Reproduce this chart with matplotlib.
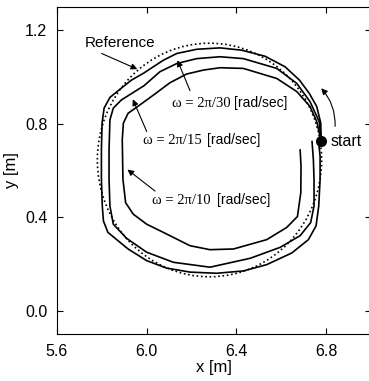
import matplotlib
matplotlib.use("Agg")
import matplotlib.pyplot as plt
from matplotlib.patches import Circle

plt.rcParams['font.family'] = ['Liberation Sans', 'DejaVu Sans']

# reference circle
ref_center = (6.28, 0.645)
ref_radius = 0.5

# trajectories (counter-clockwise from start)
x_w30 = [6.778, 6.776, 6.758, 6.725, 6.681, 6.617, 6.528, 6.424, 6.327, 6.223, 6.134, 6.074,
         5.985, 5.932, 5.881, 5.836, 5.810, 5.801, 5.798, 5.798, 5.802, 5.807, 5.827, 5.917,
         6.000, 6.089, 6.193, 6.312, 6.431, 6.535, 6.647, 6.721, 6.755, 6.767, 6.773, 6.773, 6.766]
y_w30 = [0.725, 0.803, 0.874, 0.930, 0.987, 1.044, 1.089, 1.115, 1.125, 1.119, 1.101, 1.072,
         1.016, 0.987, 0.948, 0.913, 0.867, 0.803, 0.689, 0.562, 0.448, 0.384, 0.335, 0.264,
         0.214, 0.182, 0.165, 0.160, 0.170, 0.197, 0.247, 0.304, 0.363, 0.448, 0.562, 0.661, 0.725]

x_w15 = [6.778, 6.769, 6.728, 6.669, 6.580, 6.431, 6.327, 6.223, 6.134, 6.059, 5.988, 5.887,
         5.851, 5.836, 5.832, 5.832, 5.836, 5.851, 5.911, 6.000, 6.119, 6.282, 6.461, 6.595,
         6.684, 6.731, 6.746, 6.746, 6.743, 6.737]
y_w15 = [0.725, 0.810, 0.895, 0.973, 1.037, 1.079, 1.087, 1.079, 1.058, 1.023, 0.963, 0.902,
         0.867, 0.817, 0.689, 0.562, 0.448, 0.370, 0.309, 0.250, 0.207, 0.186, 0.224, 0.271,
         0.321, 0.377, 0.448, 0.562, 0.647, 0.725]

x_w10 = [6.778, 6.758, 6.728, 6.669, 6.580, 6.431, 6.327, 6.253, 6.178, 6.104, 6.030, 5.970,
         5.917, 5.896, 5.891, 5.894, 5.906, 5.940, 6.000, 6.089, 6.193, 6.282, 6.387, 6.535,
         6.624, 6.672, 6.687, 6.688, 6.684]
y_w10 = [0.725, 0.810, 0.874, 0.938, 0.994, 1.037, 1.040, 1.030, 1.013, 0.976, 0.923, 0.881,
         0.845, 0.803, 0.732, 0.562, 0.462, 0.413, 0.370, 0.328, 0.278, 0.261, 0.264, 0.304,
         0.356, 0.403, 0.505, 0.618, 0.689]

start_pt = (6.778, 0.725)

fig = plt.figure(figsize=(3.69, 3.81), dpi=100)
ax = fig.add_axes([57 / 369, 1 - 334 / 381, 314 / 369, 327 / 381])

ax.add_patch(Circle(ref_center, ref_radius, fill=False, ls=(0, (1, 1.6)), lw=1.2, color='k'))
for xs, ys in [(x_w30, y_w30), (x_w15, y_w15), (x_w10, y_w10)]:
    ax.plot(xs, ys, color='k', lw=1.2, solid_joinstyle='round', solid_capstyle='round')
ax.plot(*start_pt, 'o', color='k', ms=7)

arr = dict(arrowstyle='-|>', lw=0.8, color='k', mutation_scale=9, shrinkA=0, shrinkB=0)
ax.annotate('', xy=(5.958, 1.034), xytext=(5.799, 1.101), arrowprops=arr)
ax.text(5.881, 1.148, 'Reference', fontsize=11, ha='center', va='center')

ax.annotate('', xy=(6.137, 1.072), xytext=(6.193, 0.942), arrowprops=arr)
ax.annotate('', xy=(5.938, 0.905), xytext=(6.000, 0.767), arrowprops=arr)
ax.annotate('', xy=(5.914, 0.604), xytext=(6.037, 0.512), arrowprops=arr)

labels = [(6.372, 6.387, 0.888, r'ω = 2π/30'),
          (6.245, 6.271, 0.729, r'ω = 2π/15'),
          (6.285, 6.312, 0.472, r'ω = 2π/10')]
for xr, xl, yy, s in labels:
    ax.text(xr, yy, s, fontsize=10.5, family=['Liberation Serif', 'DejaVu Serif'], ha='right', va='center')
    ax.text(xl, yy, '[rad/sec]', fontsize=10, ha='left', va='center')

ax.text(6.818, 0.725, 'start', fontsize=11.5, ha='left', va='center')
ax.annotate('', xy=(6.778, 0.952), xytext=(6.840, 0.789),
            arrowprops=dict(arrowstyle='-|>', lw=0.8, color='k', mutation_scale=9,
                            shrinkA=0, shrinkB=0, connectionstyle='arc3,rad=0.2'))

ax.set_xlim(5.6, 7.0)
ax.set_ylim(-0.1, 1.3)
ax.set_xticks([5.6, 6.0, 6.4, 6.8])
ax.set_yticks([0.0, 0.4, 0.8, 1.2])
ax.set_xticklabels(['5.6', '6.0', '6.4', '6.8'])
ax.set_yticklabels(['0.0', '0.4', '0.8', '1.2'])
ax.tick_params(direction='in', top=True, right=True, length=4, labelsize=11.5, pad=7)
ax.set_xlabel('x [m]', fontsize=12, labelpad=1)
ax.set_ylabel('y [m]', fontsize=12, labelpad=4)

fig.savefig('out.png', dpi=100)
